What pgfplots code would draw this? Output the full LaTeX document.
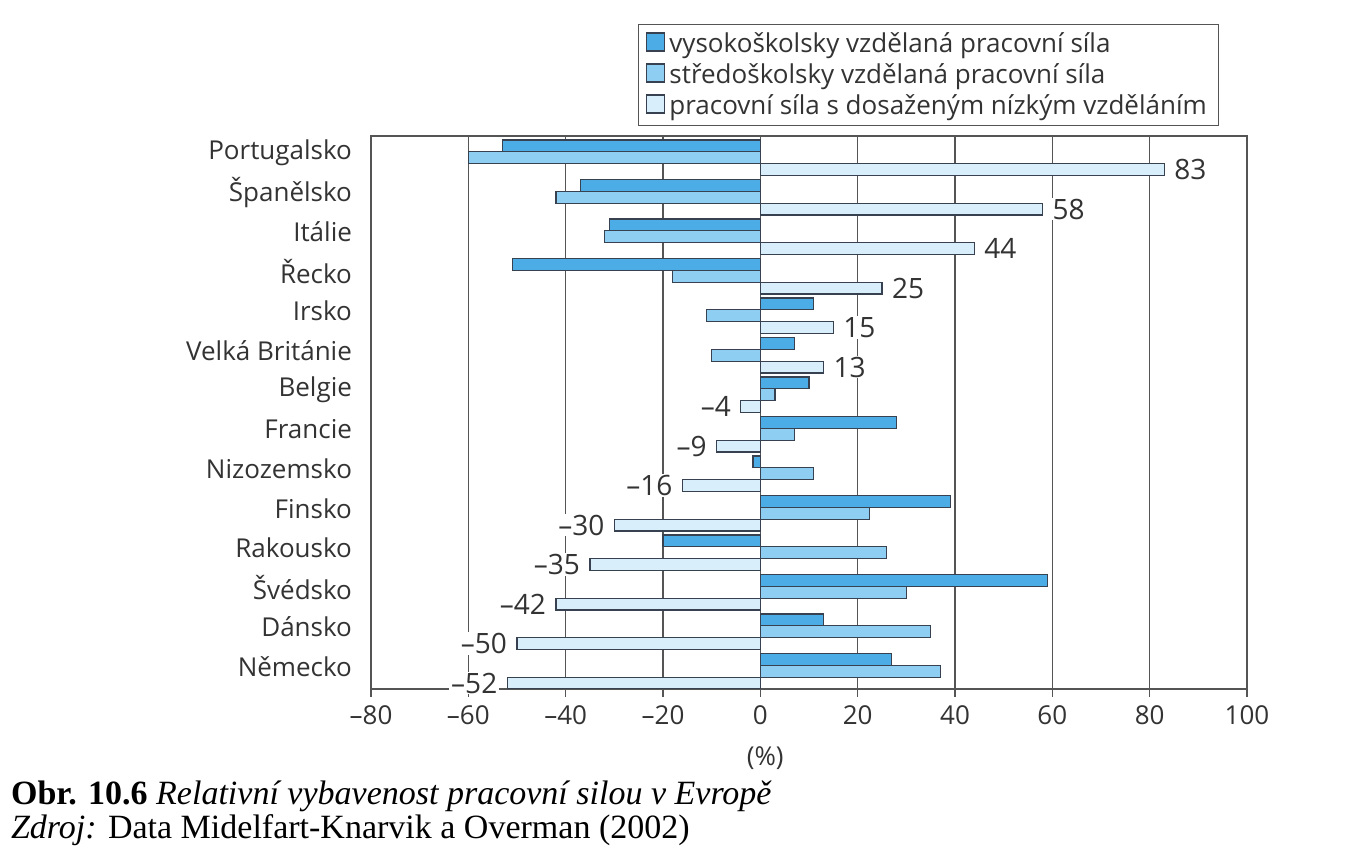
\documentclass[border=0pt]{standalone}
\usepackage{fontspec}
\setmainfont{Open Sans}
\newfontfamily\capfont{Liberation Serif}
\usepackage{pgfplots}
\usepackage{pgfplotstable}
\pgfplotsset{compat=1.18}
\definecolor{cHigh}{RGB}{76,172,230}
\definecolor{cMed}{RGB}{142,206,242}
\definecolor{cLow}{RGB}{216,239,251}
\definecolor{cEdge}{RGB}{55,65,80}
\definecolor{cGrid}{RGB}{85,85,85}

% y: category position (0 = Portugalsko, top)
\pgfplotstableread{
y high med
0 -53 -60
1 -37 -42
2 -31 -32
3 -51 -18
4 11 -11
5 7 -10
6 10 3
7 28 7
8 -1.5 11
9 39 22.5
10 -20 26
11 59 30
12 13 35
13 27 37
}\datatable
\pgfplotstableread{
y low lab
0 83 83
1 58 58
2 44 44
3 25 25
4 15 15
5 13 13
}\lowpos
\pgfplotstableread{
y low lab
6 -4 --4
7 -9 --9
8 -16 --16
9 -30 --30
10 -35 --35
11 -42 --42
12 -50 --50
13 -52 --52
}\lowneg

\begin{document}
\begin{tikzpicture}[x=1pt,y=1pt]
\path[use as bounding box] (0,0) rectangle (675,424.5);
\begin{axis}[
  at={(185.5pt,80pt)}, anchor=south west,
  scale only axis, width=438pt, height=276.5pt,
  xbar, bar width=0.3,
  xmin=-80, xmax=100,
  ymin=-0.55, ymax=13.45, y dir=reverse,
  xtick={-80,-60,-40,-20,0,20,40,60,80,100},
  xticklabels={--80,--60,--40,--20,0,20,40,60,80,100},
  ytick={-0.12,0.88,1.88,2.88,3.88,4.88,5.88,6.88,7.88,8.88,9.88,10.88,11.88,12.88},
  yticklabels={Portugalsko,Španělsko,Itálie,Řecko,Irsko,Velká Británie,Belgie,Francie,Nizozemsko,Finsko,Rakousko,Švédsko,Dánsko,Německo},
  xmajorgrids,
  major grid style={cGrid, line width=0.7pt},
  axis line style={cGrid, line width=0.8pt},
  ytick style={draw=none},
  xtick style={cGrid, line width=0.7pt},
  tick align=outside, xtick pos=bottom, ytick pos=left,
  major tick length=4pt,
  ticklabel style={font=\fontsize{13}{15}\selectfont, text=black!80},
  xticklabel style={yshift=-1pt},
  yticklabel style={xshift=-2pt},
  xlabel={(\%)},
  xlabel style={at={(rel axis cs:0.45,0)}, anchor=center, yshift=-34.5pt, font=\fontsize{13}{15}\selectfont, text=black!80},
  legend style={at={(rel axis cs:0.9685,1.2025)}, anchor=north east, draw=cGrid, line width=0.6pt,
    font=\fontsize{13}{15}\selectfont, text=black!80, cells={anchor=west}, row sep=0pt,
    inner xsep=4pt, inner ysep=2pt},
  barbase/.style={bar shift=0pt, bar width=0.3, draw=cEdge, line width=0.6pt,
    /pgfplots/legend image code/.code={\draw[##1, line width=0.6pt] (0pt,-3.5pt) rectangle (9pt,5.5pt);}},
  lowstyle/.style={barbase, fill=cLow,
    nodes near coords, point meta=explicit symbolic,
    every node near coord/.append style={fill=white, inner xsep=1pt, inner ysep=0.5pt, outer xsep=4pt,
      font=\fontsize{14}{15}\selectfont, text=black!80}},
]
\addplot[barbase, fill=cHigh] table[x=high, y expr=\thisrow{y}-0.3] {\datatable};
\addlegendentry{vysokoškolsky vzdělaná pracovní síla}
\addplot[barbase, fill=cMed] table[x=med, y=y] {\datatable};
\addlegendentry{středoškolsky vzdělaná pracovní síla}
\addplot[lowstyle, every node near coord/.append style={anchor=west}]
  table[x=low, y expr=\thisrow{y}+0.3, meta=lab] {\lowpos};
\addlegendentry{pracovní síla s dosaženým nízkým vzděláním}
\addplot[lowstyle, forget plot, every node near coord/.append style={anchor=east}]
  table[x=low, y expr=\thisrow{y}+0.3, meta=lab] {\lowneg};
\end{axis}
\node[anchor=base west, font=\capfont\fontsize{17}{20}\selectfont] at (2,22) {\textbf{Obr. 10.6}\ \textit{Relativní vybavenost pracovní silou v Evropě}};
\node[anchor=base west, font=\capfont\fontsize{17}{20}\selectfont] at (2,5) {\textit{Zdroj:} Data Midelfart-Knarvik a Overman (2002)};
\end{tikzpicture}
\end{document}
